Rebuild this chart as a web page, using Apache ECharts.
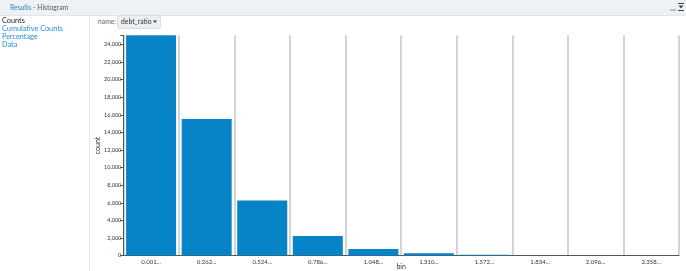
<!DOCTYPE html>
<html>
<head>
<meta charset="utf-8">
<script src="https://cdn.jsdelivr.net/npm/echarts@6/dist/echarts.min.js"></script>
<style>
html,body{margin:0;padding:0;background:#fff;}
#c{width:686px;height:271px;}
</style>
</head>
<body>
<div id="c"></div>
<script>
const categories = ["0.001...", "0.262...", "0.524...", "0.786...", "1.048...", "1.310...", "1.572...", "1.834...", "2.096...", "2.358..."];
const counts = [25040, 15520, 6260, 2230, 750, 280, 90, 0, 0, 0];
const yTickStep = 2000;
const menuItems = ["Counts", "Cumulative Counts", "Percentage", "Data"];

const FONT = "Lato";
const chart = echarts.init(document.getElementById('c'), null, {renderer: 'canvas'});

const graphics = [
  {type: 'rect', shape: {x: 0, y: 0, width: 686, height: 15}, style: {fill: '#eef2f6'}, z: -1},
  {type: 'line', shape: {x1: 0, y1: 15.5, x2: 686, y2: 15.5}, style: {stroke: '#dfe5ec', lineWidth: 1}},
  {type: 'text', x: 10, y: 7.5, style: {text: 'Results', fill: '#2a87c8', font: '6.8px ' + FONT, verticalAlign: 'middle'}},
  {type: 'text', x: 33, y: 7.5, style: {text: '- Histogram', fill: '#555', font: '6.8px ' + FONT, verticalAlign: 'middle'}},
  {type: 'rect', shape: {x: 670, y: 9.5, width: 6, height: 1}, style: {fill: '#888'}},
  {type: 'rect', shape: {x: 678, y: 3, width: 6, height: 1}, style: {fill: '#444'}},
  {type: 'polygon', shape: {points: [[678.5, 5.5], [683.5, 5.5], [681, 8.5]]}, style: {fill: '#444'}},
  {type: 'rect', shape: {x: 678, y: 10, width: 6, height: 1}, style: {fill: '#444'}},
  {type: 'line', shape: {x1: 89.5, y1: 16, x2: 89.5, y2: 271}, style: {stroke: '#e6e9ee', lineWidth: 1}},
  {type: 'text', x: 98, y: 22, style: {text: 'name:', fill: '#666', font: '6.8px ' + FONT, verticalAlign: 'middle'}},
  {type: 'rect', shape: {x: 117.5, y: 15.5, width: 43, height: 13, r: 2}, style: {fill: '#eceff2', stroke: '#d8dce1', lineWidth: 1}},
  {type: 'text', x: 121, y: 22, style: {text: 'debt_ratio', fill: '#333', font: '6.8px ' + FONT, verticalAlign: 'middle'}},
  {type: 'polygon', shape: {points: [[153, 20.5], [157, 20.5], [155, 23]]}, style: {fill: '#444'}}
];
menuItems.forEach((t, i) => {
  graphics.push({type: 'text', x: 2, y: 20.5 + i * 8.2, style: {text: t, fill: i === 0 ? '#222' : '#2a8fd6', font: '7.3px ' + FONT, verticalAlign: 'middle'}});
});

chart.setOption({
  animation: false,
  textStyle: {fontFamily: FONT},
  grid: {left: 123.3, right: 7, top: 35.3, bottom: 15.4, containLabel: false, outerBoundsMode: 'none'},
  xAxis: {
    type: 'category',
    data: categories,
    name: 'bin',
    nameLocation: 'middle',
    nameGap: 8,
    nameMoveOverlap: false,
    nameTextStyle: {fontSize: 7, color: '#333', fontFamily: FONT},
    axisLine: {lineStyle: {color: '#555', width: 1}},
    axisTick: {show: false},
    axisLabel: {interval: 0, fontSize: 6, color: '#333', margin: 3, fontFamily: FONT},
    splitLine: {show: true, lineStyle: {color: '#d4d4d4', width: 2}}
  },
  yAxis: {
    type: 'value',
    min: 0,
    max: 'dataMax',
    interval: yTickStep,
    name: 'count',
    nameLocation: 'middle',
    nameGap: 22,
    nameMoveOverlap: false,
    nameTextStyle: {fontSize: 7, color: '#333', fontFamily: FONT},
    axisLine: {show: true, lineStyle: {color: '#555', width: 1}},
    axisTick: {show: true, length: 3, lineStyle: {color: '#555'}},
    axisLabel: {
      fontSize: 5.5, color: '#333', margin: 2, fontFamily: FONT,
      formatter: v => (v % yTickStep === 0 ? v.toLocaleString('en-US') : '')
    },
    splitLine: {show: false}
  },
  series: [{
    type: 'bar',
    data: counts,
    barCategoryGap: '10%',
    itemStyle: {color: '#0784c7'}
  }],
  graphic: graphics
});
</script>
</body>
</html>
